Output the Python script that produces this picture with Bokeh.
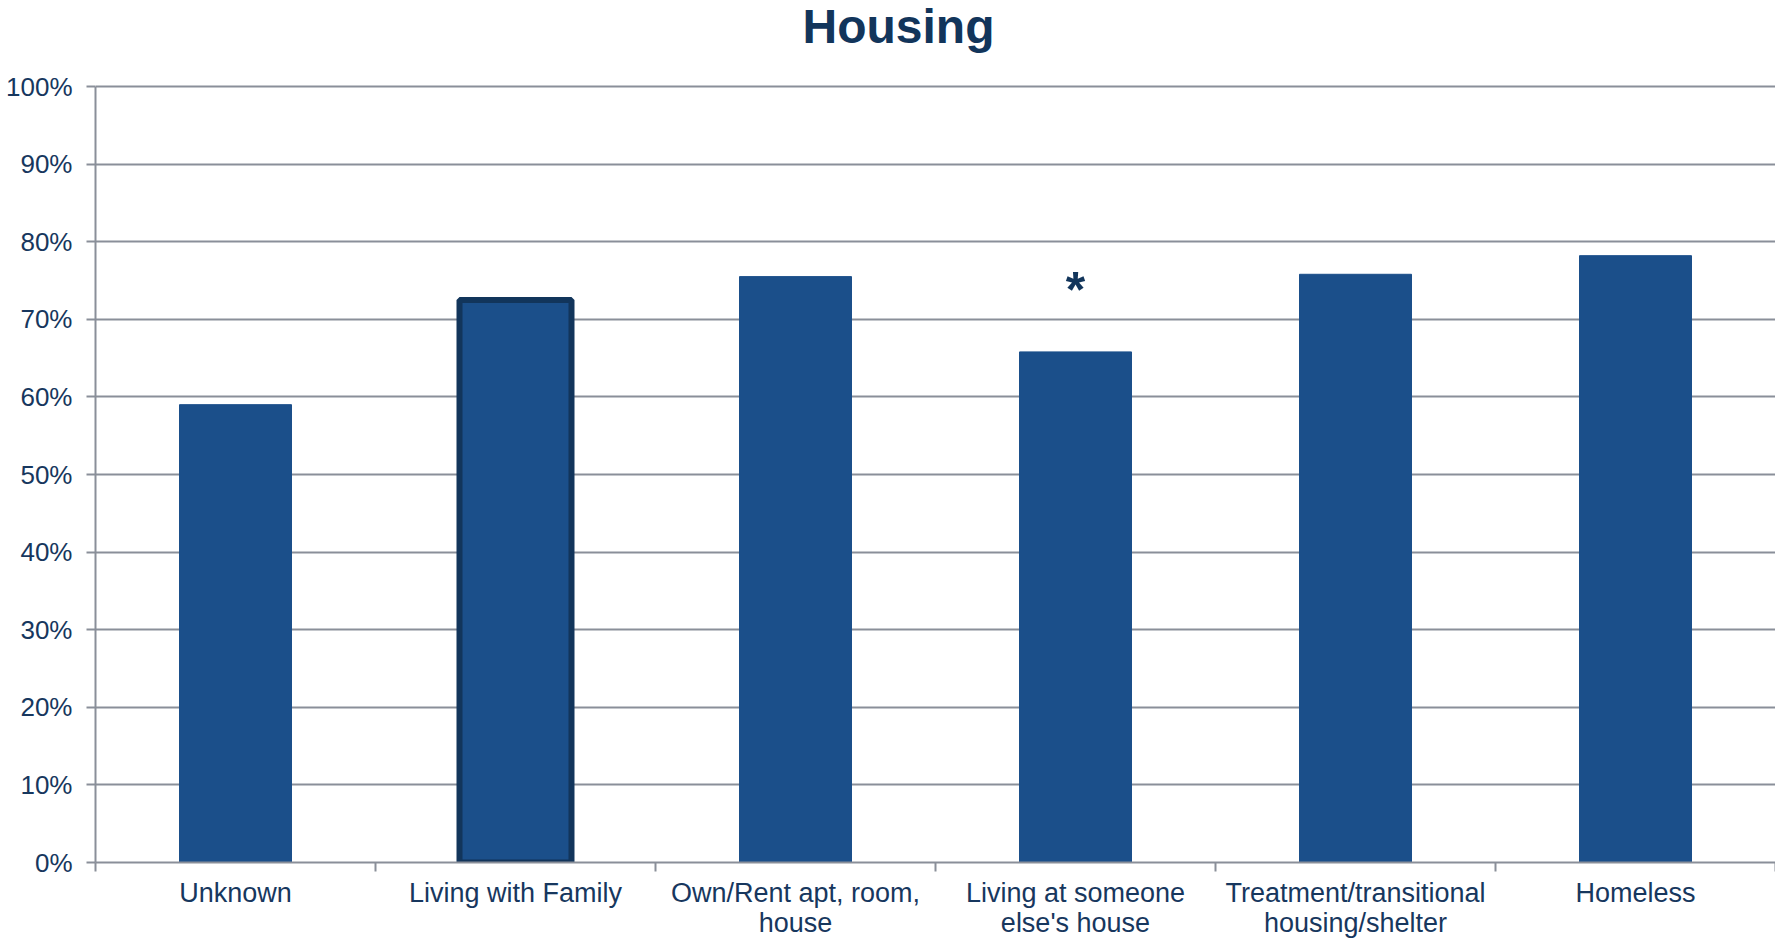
from bokeh.plotting import figure
from bokeh.models import ColumnDataSource, FixedTicker, Range1d
from bokeh.core.properties import value
from bokeh.embed import file_html
from bokeh.resources import INLINE

# ---- data ----
title_text = "Housing"
categories = [
    "Unknown",
    "Living with Family",
    "Own/Rent apt, room,\nhouse",
    "Living at someone\nelse's house",
    "Treatment/transitional\nhousing/shelter",
    "Homeless",
]
percent_values = [59.0, 72.5, 75.5, 65.8, 75.8, 78.2]
significance_marks = ["", "", "", "*", "", ""]
highlighted = [False, True, False, False, False, False]
y_ticks = [0, 10, 20, 30, 40, 50, 60, 70, 80, 90, 100]
y_tick_labels = [f"{t}%" for t in y_ticks]

# ---- styling / layout ----
BAR = "#1B4F8A"
EDGE = "#12355B"
TEXT = "#17375E"
GRID = "#8A8F99"
FONT = "Liberation Sans"
W, H = 1775, 942
LEFT, BOTTOM = 95, 80
PLOT_TOP_PX = 86            # pixel row of the 100% line
TITLE_ANCHOR_PX = 26        # pixel row of the title anchor
TITLE_CENTER_PX = 898       # pixel column of the title centre

n = len(categories)
centers = [i + 0.5 for i in range(n)]
frame_h = H - BOTTOM
px_per_unit = (frame_h - PLOT_TOP_PX) / 100.0
y_top = frame_h / px_per_unit
title_y = (frame_h - TITLE_ANCHOR_PX) / px_per_unit
title_x = (TITLE_CENTER_PX - LEFT) / ((W - LEFT) / n)

src = ColumnDataSource(dict(
    x=centers,
    top=percent_values,
    line_color=[EDGE if h else BAR for h in highlighted],
    line_width=[6 if h else 1 for h in highlighted],
    mark=significance_marks,
    mark_y=[v + 8 for v in percent_values],
))

p = figure(
    width=W, height=H, title=None,
    x_range=Range1d(0, n), y_range=Range1d(0, y_top),
    output_backend="svg", toolbar_location=None,
    min_border_left=LEFT, min_border_right=0,
    min_border_top=0, min_border_bottom=BOTTOM,
)

p.outline_line_color = None
p.background_fill_color = "white"
p.border_fill_color = "white"

p.vbar(x="x", top="top", bottom=0, width=0.4, source=src,
       fill_color=BAR, line_color="line_color", line_width="line_width")

p.text(x="x", y="mark_y", text="mark", source=src,
       text_font=value(FONT), text_font_size="50px", text_font_style="bold",
       text_color=EDGE, text_align="center", text_baseline="alphabetic")

# chart title
p.text(x=[title_x], y=[title_y], text=[title_text],
       text_font=value(FONT), text_font_size="48px", text_font_style="bold",
       text_color=EDGE, text_align="center", text_baseline="alphabetic")

# grid
p.xgrid.grid_line_color = None
p.ygrid.grid_line_color = GRID
p.ygrid.grid_line_width = 2
p.ygrid.ticker = FixedTicker(ticks=y_ticks)

# y axis
ya = p.yaxis[0]
ya.ticker = FixedTicker(ticks=y_ticks)
ya.bounds = (0, 100)
ya.major_label_overrides = {t: l for t, l in zip(y_ticks, y_tick_labels)}
ya.axis_line_color = GRID
ya.axis_line_width = 2
ya.major_tick_line_color = GRID
ya.major_tick_line_width = 2
ya.major_tick_out = 9
ya.major_tick_in = 0
ya.minor_tick_line_color = None
ya.major_label_text_font = FONT
ya.major_label_text_font_size = "26px"
ya.major_label_text_color = TEXT
ya.major_label_standoff = 14

# x axis
xa = p.xaxis[0]
xa.ticker = FixedTicker(ticks=centers, minor_ticks=list(range(n + 1)))
xa.major_label_overrides = {c: lab for c, lab in zip(centers, categories)}
xa.axis_line_color = GRID
xa.axis_line_width = 2
xa.major_tick_line_color = None
xa.major_tick_out = 0
xa.major_tick_in = 0
xa.minor_tick_line_color = GRID
xa.minor_tick_line_width = 2
xa.minor_tick_out = 9
xa.minor_tick_in = 0
xa.major_label_text_font = FONT
xa.major_label_text_font_size = "27px"
xa.major_label_text_color = TEXT
xa.major_label_standoff = 6
xa.major_label_text_line_height = 1.0

open("out.html", "w").write(file_html(p, INLINE))
